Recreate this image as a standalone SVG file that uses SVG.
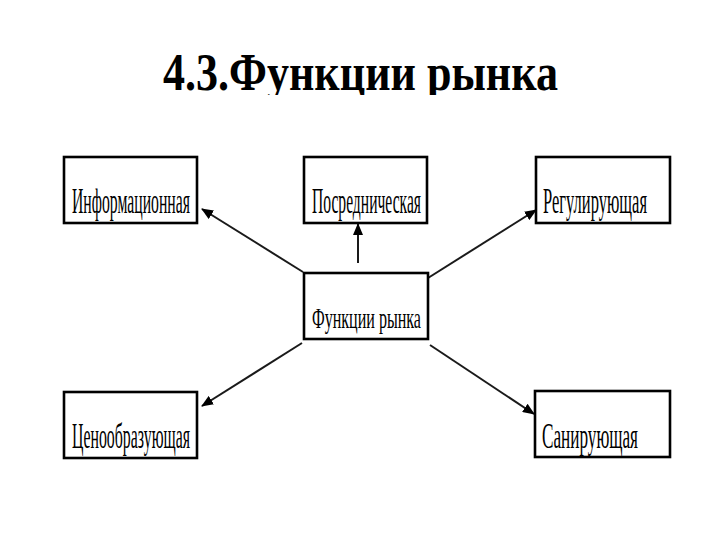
<svg xmlns="http://www.w3.org/2000/svg" width="720" height="540" viewBox="0 0 720 540">
<defs>
<style>
.box{fill:#fff;stroke:#000;stroke-width:2.6}
.lbl{font-family:"Liberation Serif","Times New Roman","DejaVu Serif",serif;font-size:35px;fill:#000}
.title{font-family:"Liberation Serif","Times New Roman","DejaVu Serif",serif;font-size:52px;font-weight:bold;fill:#000}
.conn line{stroke:#1a1a1a;stroke-width:2;marker-end:url(#ah)}
</style>
<marker id="ah" markerUnits="userSpaceOnUse" markerWidth="12" markerHeight="10" refX="11" refY="5" orient="auto">
<path d="M0,0 L12,5 L0,10 Z" fill="#000"/>
</marker>
<clipPath id="tclip"><rect x="0" y="0" width="720" height="95"/></clipPath>
</defs>
<rect width="720" height="540" fill="#fff"/>
<text class="title" x="163" y="90" textLength="395" lengthAdjust="spacingAndGlyphs" clip-path="url(#tclip)">4.3.Функции рынка</text>
<g class="conn">
<line x1="303" y1="272" x2="202" y2="209"/>
<line x1="358" y1="263" x2="358" y2="224"/>
<line x1="428" y1="278" x2="536" y2="210"/>
<line x1="302" y1="343" x2="202" y2="406"/>
<line x1="430" y1="345" x2="534" y2="414"/>
</g>
<g id="n-info"><rect class="box" x="64" y="157" width="133" height="66"/><text class="lbl" x="72" y="213" textLength="118" lengthAdjust="spacingAndGlyphs">Информационная</text></g>
<g id="n-posr"><rect class="box" x="304" y="157" width="123" height="66"/><text class="lbl" x="312" y="213" textLength="109" lengthAdjust="spacingAndGlyphs">Посредническая</text></g>
<g id="n-reg"><rect class="box" x="536" y="157" width="134" height="66"/><text class="lbl" x="543" y="213" textLength="104" lengthAdjust="spacingAndGlyphs">Регулирующая</text></g>
<g id="n-center"><rect class="box" x="304" y="273" width="124" height="66"/><text class="lbl" x="312" y="328" style="font-size:30px" textLength="109" lengthAdjust="spacingAndGlyphs">Функции рынка</text></g>
<g id="n-ceno"><rect class="box" x="64" y="392" width="133" height="66"/><text class="lbl" x="72" y="448" textLength="118" lengthAdjust="spacingAndGlyphs">Ценообразующая</text></g>
<g id="n-san"><rect class="box" x="535" y="391" width="135" height="66"/><text class="lbl" x="542" y="448" textLength="96" lengthAdjust="spacingAndGlyphs">Санирующая</text></g>
</svg>
